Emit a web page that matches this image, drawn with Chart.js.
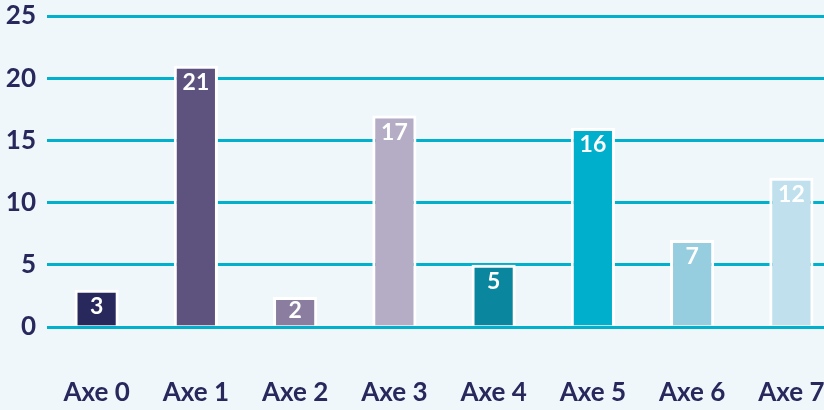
<!DOCTYPE html>
<html>
<head>
<meta charset="utf-8">
<script src="https://cdn.jsdelivr.net/npm/chart.js@4"></script>
<style>
  html, body { margin: 0; padding: 0; background: #f0f7fb; overflow: hidden; }
  canvas { display: block; }
</style>
</head>
<body>
<canvas id="barChart" width="841" height="410"></canvas>
<script>
const categories = ['Axe 0', 'Axe 1', 'Axe 2', 'Axe 3', 'Axe 4', 'Axe 5', 'Axe 6', 'Axe 7'];
const values = [3, 21, 2, 17, 5, 16, 7, 12];
const barColors = ['#29285c', '#5e527e', '#8a7d9f', '#b5adc6', '#0a879e', '#00afcc', '#96cee0', '#bfe0ec'];
const yTicks = [0, 5, 10, 15, 20, 25];

const navy = '#29285c';

// white value just inside the top of each bar (kept inside short bars)
const valueLabels = {
  id: 'valueLabels',
  afterDatasetsDraw(chart) {
    const ctx = chart.ctx;
    const meta = chart.getDatasetMeta(0);
    ctx.save();
    ctx.fillStyle = '#ffffff';
    ctx.font = 'bold 23px Lato';
    ctx.textAlign = 'center';
    ctx.textBaseline = 'middle';
    meta.data.forEach((bar, i) => {
      const y = Math.min(bar.y + 17, bar.base - 15);
      ctx.fillText(String(values[i]), bar.x, y);
    });
    ctx.restore();
  },
};

const ctx1 = document.getElementById('barChart').getContext('2d');
new Chart(ctx1, {
  type: 'bar',
  data: {
    labels: categories,
    datasets: [{
      data: values,
      backgroundColor: barColors,
      borderColor: '#ffffff',
      borderWidth: 3,
      borderSkipped: 'bottom',
      barPercentage: 0.445,
      categoryPercentage: 1,
      minBarLength: 30,
    }],
  },
  options: {
    responsive: false,
    animation: false,
    layout: { padding: { left: 6, right: 0, top: 0, bottom: 0 } },
    plugins: { legend: { display: false }, tooltip: { enabled: false } },
    scales: {
      x: {
        grid: { display: false, drawTicks: false },
        border: { display: false },
        ticks: { color: navy, padding: 50, maxRotation: 0, font: { family: 'Lato', size: 26, weight: 'bold' } },
        // chart.js doubles the tick padding when fitting, so fix the box by hand
        afterFit: axis => { axis.height = 83; axis.paddingLeft = 0; axis.paddingRight = 0; },
      },
      y: {
        min: 0,
        max: 25,
        afterBuildTicks: axis => { axis.ticks = yTicks.map(v => ({ value: v })); },
        grid: { color: '#00b0cc', lineWidth: 3, drawTicks: false },
        border: { display: false },
        ticks: { color: navy, padding: 11, font: { family: 'Lato', size: 26, weight: 'bold' } },
        afterFit: axis => { axis.width = 41; axis.paddingTop = 16; axis.paddingBottom = 0; },
      },
    },
  },
  plugins: [valueLabels],
});
</script>
</body>
</html>
